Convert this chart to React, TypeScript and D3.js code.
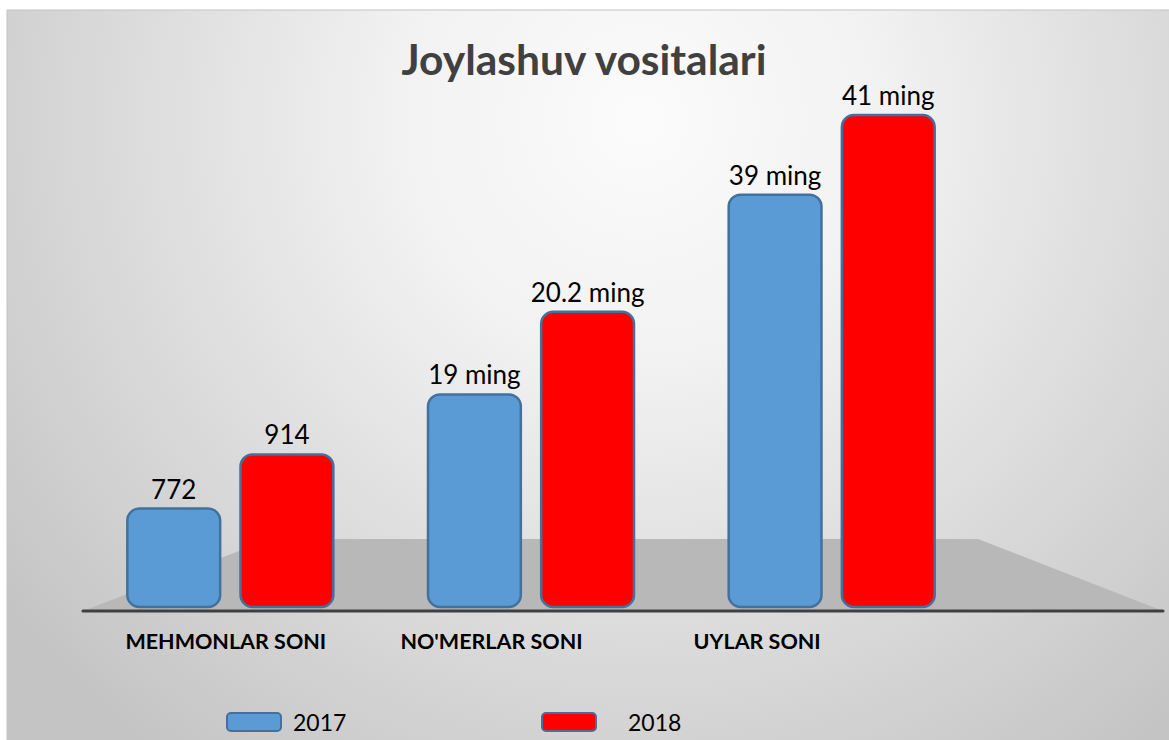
import React from "react";
import * as d3 from "d3";

const categories = ["MEHMONLAR SONI", "NO'MERLAR SONI", "UYLAR SONI"];
const seriesNames = ["2017", "2018"];
// plotted bar heights (arbitrary units)
const plotted2017 = [1.0, 2.16, 4.19];
const plotted2018 = [1.55, 3.0, 5.0];
// value labels shown above the bars
const labels2017 = ["772", "19 ming", "39 ming"];
const labels2018 = ["914", "20.2 ming", "41 ming"];
const seriesColors = ["#5b9bd5", "#ff0000"];
const title = "Joylashuv vositalari";

const W = 1169;
const H = 740;
const FONT = "Lato, 'Open Sans', sans-serif";

export default function App() {
  const baseY = 607;
  const y = d3.scaleLinear().domain([0, 5]).range([baseY, 115]);

  // group positions for bars
  const groupW = 206;
  const xGroup = d3.scaleBand<string>().domain(categories).range([80, 982]);
  const xBar = d3.scaleBand<string>().domain(seriesNames).range([0, groupW]).paddingInner(0.18);
  const groupOffset = (xGroup.bandwidth() - groupW) / 2;
  // category axis label positions
  const xLabel = d3.scaleBand<string>().domain(categories).range([93, 890]);
  // legend
  const xLegend = d3.scalePoint<string>().domain(seriesNames).range([227, 542]);

  const values = [plotted2017, plotted2018];
  const valueLabels = [labels2017, labels2018];

  const bars: any[] = [];
  categories.forEach((c, ci) => {
    seriesNames.forEach((s, si) => {
      const v = values[si][ci];
      const x0 = (xGroup(c) as number) + groupOffset + (xBar(s) as number);
      const w = xBar.bandwidth();
      bars.push({ key: c + s, x: x0, w, yTop: y(v), color: seriesColors[si], label: valueLabels[si][ci] });
    });
  });

  const floor = [
    [83, 611],
    [270, 539],
    [978, 539],
    [1163, 611],
  ];
  const floorPath = d3.line()(floor as [number, number][]) + "Z";

  return (
    <svg width={W} height={H} style={{ position: "absolute", left: 0, top: 0 }} fontFamily={FONT}>
      <defs>
        <radialGradient id="bg" gradientUnits="userSpaceOnUse" cx={640} cy={120} r={800}>
          <stop offset="0" stopColor="#fbfbfb" />
          <stop offset="0.3" stopColor="#f2f2f2" />
          <stop offset="1" stopColor="#c4c4c4" />
        </radialGradient>
      </defs>
      <rect x={0} y={0} width={W} height={H} fill="#ffffff" />
      <rect x={7} y={10} width={W} height={H} fill="url(#bg)" stroke="#c4c4c4" strokeWidth={1} />
      <path d={floorPath} fill="#b8b8b8" />
      <line x1={83} x2={1163} y1={611} y2={611} stroke="#404040" strokeWidth={3} strokeLinecap="round" />

      {bars.map((b) => (
        <g key={b.key}>
          <rect
            x={b.x}
            y={b.yTop}
            width={b.w}
            height={baseY - b.yTop}
            rx={12}
            ry={12}
            fill={b.color}
            stroke="#41719c"
            strokeWidth={2.5}
          />
          <text x={b.x + b.w / 2} y={b.yTop - 10} textAnchor="middle" fontSize={26} fill="#000">
            {b.label}
          </text>
        </g>
      ))}

      {categories.map((c) => (
        <text
          key={c}
          x={(xLabel(c) as number) + xLabel.bandwidth() / 2}
          y={649}
          textAnchor="middle"
          fontSize={21.5}
          fontWeight="bold"
          fill="#000"
        >
          {c}
        </text>
      ))}

      <text x={584} y={75} textAnchor="middle" fontSize={42.5} fontWeight="bold" fill="#404040">
        {title}
      </text>

      {seriesNames.map((s, i) => {
        const lx = xLegend(s) as number;
        return (
          <g key={s}>
            <rect x={lx} y={713} width={54} height={18} rx={4} fill={seriesColors[i]} stroke="#41719c" strokeWidth={2} />
            <text x={lx + 66 + i * 20} y={731} fontSize={23} fill="#000">
              {s}
            </text>
          </g>
        );
      })}
    </svg>
  );
}
